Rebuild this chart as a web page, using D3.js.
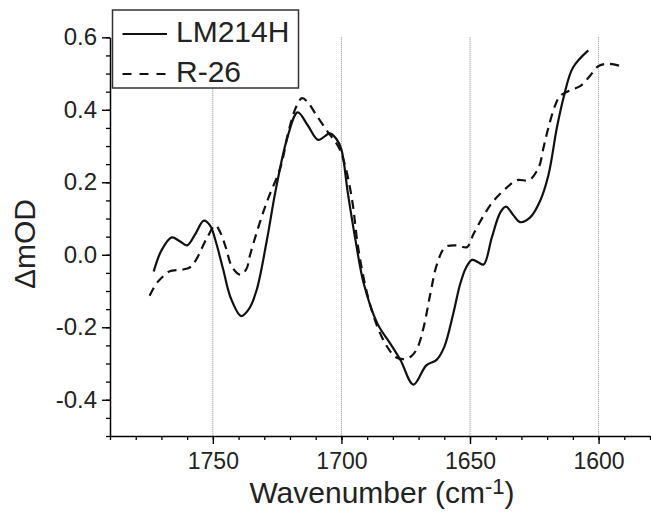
<!DOCTYPE html>
<html>
<head>
<meta charset="utf-8">
<script src="https://cdn.jsdelivr.net/npm/d3@7"></script>
<style>
  body { margin: 0; background: #fff; }
  svg { display: block; font-family: "Liberation Sans", Arial, sans-serif; }
</style>
</head>
<body>
<svg id="chart"></svg>
<script>
// Data
const seriesNames = ['LM214H', 'R-26'];

const lmWave = [1773, 1770, 1766, 1763, 1760, 1757, 1753.5, 1751, 1749, 1746, 1743, 1739, 1736, 1733,
  1729, 1725.6, 1721, 1717, 1713, 1709, 1704.5, 1702, 1700, 1697.5, 1694.5, 1691.3, 1686, 1681, 1677,
  1672, 1667, 1663, 1660, 1656.5, 1653.8, 1651.5, 1649.2, 1647, 1644.7, 1641.5, 1638.2, 1636, 1633,
  1630.5, 1626.6, 1622.7, 1619.5, 1616.2, 1613.6, 1610, 1604];
const lmValue = [-0.046, 0.012, 0.048, 0.038, 0.026, 0.055, 0.094, 0.08, 0.04, -0.04, -0.12, -0.169, -0.15, -0.098,
  0.04, 0.177, 0.324, 0.393, 0.356, 0.317, 0.335, 0.32, 0.29, 0.17, 0.039, -0.08, -0.19, -0.245, -0.291,
  -0.358, -0.305, -0.29, -0.254, -0.162, -0.08, -0.035, -0.014, -0.02, -0.027, 0.048, 0.117, 0.133, 0.108,
  0.09, 0.103, 0.149, 0.22, 0.351, 0.434, 0.516, 0.564];

const rWave = [1774.6, 1772, 1769.7, 1767, 1762, 1759, 1756.7, 1752.2, 1749, 1747, 1745, 1742.5, 1739.2, 1737,
  1735.4, 1731.5, 1728.5, 1723.7, 1720.5, 1717.5, 1715.3, 1713, 1710, 1705.6, 1701, 1698.4, 1695.8, 1693.5,
  1690, 1686, 1682.2, 1679, 1676, 1673.2, 1670.6, 1668, 1665.4, 1662.8, 1659.6, 1655, 1651.2, 1648.6,
  1644.7, 1640.8, 1635.6, 1631.7, 1627, 1623.3, 1621.4, 1619.5, 1617, 1615, 1611, 1607, 1603.3, 1600,
  1596, 1590];
const rValue = [-0.113, -0.08, -0.062, -0.046, -0.041, -0.035, -0.016, 0.048, 0.081, 0.06, 0.021, -0.034, -0.055, -0.04,
  0.003, 0.094, 0.155, 0.241, 0.342, 0.41, 0.432, 0.42, 0.388, 0.342, 0.296, 0.241, 0.149, 0.02,
  -0.107, -0.199, -0.254, -0.282, -0.288, -0.282, -0.259, -0.199, -0.107, -0.025, 0.021, 0.026, 0.021, 0.058,
  0.108, 0.149, 0.186, 0.206, 0.206, 0.241, 0.296, 0.351, 0.41, 0.438, 0.454, 0.466, 0.494, 0.521,
  0.527, 0.518];

const xMajorTicks = [1750, 1700, 1650, 1600];
const xTickLabels = ['1750', '1700', '1650', '1600'];
const yMajorTicks = [0.6, 0.4, 0.2, 0.0, -0.2, -0.4];
const yTickLabels = ['0.6', '0.4', '0.2', '0.0', '-0.2', '-0.4'];

// Dimensions
const width = 651;
const height = 525;

const svg = d3.select('#chart')
  .attr('width', width)
  .attr('height', height);

// Scales
const x = d3.scaleLinear().domain([1790, 1580]).range([110, 650]);
const y = d3.scaleLinear().domain([-0.5, 0.6]).range([436, 37.3]);

// Vertical dotted grid lines at the major x ticks
svg.append('g')
  .selectAll('line')
  .data(xMajorTicks)
  .enter()
  .append('line')
  .attr('x1', d => x(d))
  .attr('x2', d => x(d))
  .attr('y1', y(0.6))
  .attr('y2', y(-0.5))
  .attr('stroke', '#8a8a8a')
  .attr('stroke-width', 1)
  .attr('stroke-dasharray', '1,1');

// Minor ticks
const xMinor = d3.range(1790, 1579, -10);
const yMinor = d3.range(-0.5, 0.6001, 0.05);

svg.append('g')
  .attr('transform', `translate(0,${y(-0.5)})`)
  .call(d3.axisBottom(x).tickValues(xMinor).tickSize(4).tickFormat(''))
  .call(g => g.select('.domain').remove())
  .call(g => g.selectAll('line').attr('stroke-width', 1.3));

svg.append('g')
  .attr('transform', `translate(${x(1790)},0)`)
  .call(d3.axisLeft(y).tickValues(yMinor).tickSize(4).tickFormat(''))
  .call(g => g.select('.domain').remove())
  .call(g => g.selectAll('line').attr('stroke-width', 1.3));

// Major axes
const xAxis = svg.append('g')
  .attr('transform', `translate(0,${y(-0.5)})`)
  .call(d3.axisBottom(x).tickValues(xMajorTicks).tickSize(8).tickSizeOuter(0).tickPadding(9)
    .tickFormat((d, i) => xTickLabels[i]));
xAxis.select('.domain').attr('stroke-width', 1.5);
xAxis.selectAll('line').attr('stroke-width', 1.4);
xAxis.selectAll('text')
  .attr('font-size', 23)
  .attr('font-family', '"Liberation Sans", Arial, sans-serif')
  .attr('fill', '#222');

const yAxis = svg.append('g')
  .attr('transform', `translate(${x(1790)},0)`)
  .call(d3.axisLeft(y).tickValues(yMajorTicks).tickSize(8).tickSizeOuter(0).tickPadding(5)
    .tickFormat((d, i) => yTickLabels[i]));
yAxis.select('.domain').attr('stroke-width', 1.5);
yAxis.selectAll('line').attr('stroke-width', 1.4);
yAxis.selectAll('text')
  .attr('font-size', 24)
  .attr('font-family', '"Liberation Sans", Arial, sans-serif')
  .attr('fill', '#222');

// Lines
const line = d3.line()
  .x(d => x(d[0]))
  .y(d => y(d[1]))
  .curve(d3.curveCatmullRom.alpha(0.5));

const lmData = lmWave.map((w, i) => [w, lmValue[i]]);
const rData = rWave.map((w, i) => [w, rValue[i]]);

svg.append('path')
  .datum(rData)
  .attr('d', line)
  .attr('fill', 'none')
  .attr('stroke', '#111')
  .attr('stroke-width', 2.2)
  .attr('stroke-dasharray', '9,6');

svg.append('path')
  .datum(lmData)
  .attr('d', line)
  .attr('fill', 'none')
  .attr('stroke', '#111')
  .attr('stroke-width', 2.2);

// Legend
const legend = svg.append('g');
legend.append('rect')
  .attr('x', 112.5)
  .attr('y', 10)
  .attr('width', 186)
  .attr('height', 78)
  .attr('fill', '#fff')
  .attr('stroke', '#333')
  .attr('stroke-width', 1.5);

const legendItems = legend.selectAll('g.item')
  .data(seriesNames)
  .enter()
  .append('g')
  .attr('class', 'item')
  .attr('transform', (d, i) => `translate(0,${i * 40})`);

legendItems.append('line')
  .attr('x1', 122.5)
  .attr('x2', 167)
  .attr('y1', 34)
  .attr('y2', 34)
  .attr('stroke', '#111')
  .attr('stroke-width', 2)
  .attr('stroke-dasharray', (d, i) => i === 0 ? null : '9,8');

legendItems.append('text')
  .attr('x', 176)
  .attr('y', 42)
  .attr('font-size', 30)
  .attr('fill', '#222')
  .text(d => d);

// Axis titles
const xTitle = svg.append('text')
  .attr('x', 382)
  .attr('y', 503)
  .attr('text-anchor', 'middle')
  .attr('font-size', 30)
  .attr('fill', '#222');
xTitle.append('tspan').text('Wavenumber (cm');
xTitle.append('tspan').attr('font-size', 22).attr('dy', -9).text('-1');
xTitle.append('tspan').attr('dy', 9).text(')');

svg.append('text')
  .attr('transform', 'translate(35,244) rotate(-90)')
  .attr('text-anchor', 'middle')
  .attr('font-size', 30)
  .attr('fill', '#222')
  .text('ΔmOD');
</script>
</body>
</html>
